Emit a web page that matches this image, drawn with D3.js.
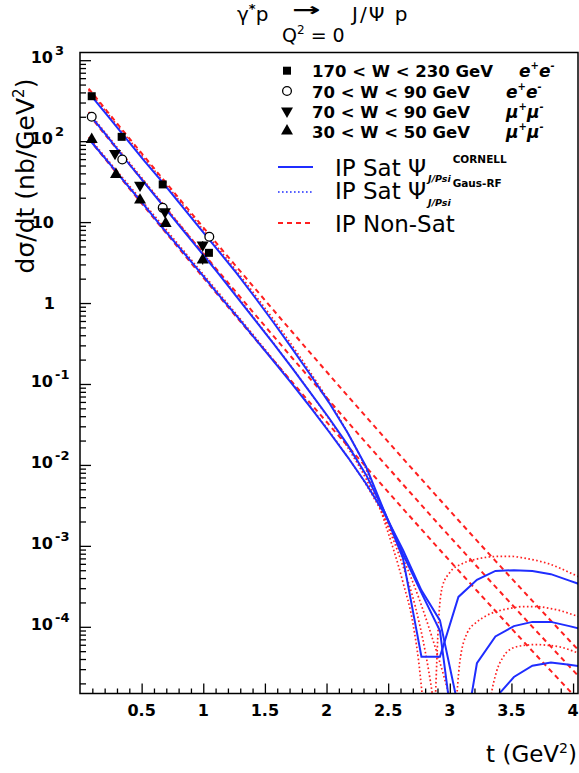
<!DOCTYPE html>
<html>
<head>
<meta charset="utf-8">
<script src="https://cdn.jsdelivr.net/npm/d3@7/dist/d3.min.js"></script>
<style>
  body { margin: 0; background: #fff; }
  svg text { font-family: "DejaVu Sans", sans-serif; fill: #000; }
  .b { font-weight: bold; }
</style>
</head>
<body>
<svg id="chart" width="579" height="773"></svg>
<script>
// ---------------- model predictions, dsigma/dt in nb/GeV^2 ----------------
// t grid of the IP-Sat (CORNELL) and IP Non-Sat calculations
const tGrid = [0.07,0.22,0.37,0.52,0.67,0.82,0.97,1.12,1.27,1.42,1.57,1.72,1.87,2.02,
               2.17,2.32,2.47,2.62,2.77,2.92,3.07,3.22,3.37,3.52,3.67,3.82,3.97,4.12];

const satCornellW200 = [398,209,110,57.5,30.9,16.2,8.51,4.47,2.34,1.17,0.575,0.275,0.129,0.0589,
                        0.0251,0.00955,0.00263,7.08e-4,4.27e-5,4.27e-5,2.34e-4,3.80e-4,4.90e-4,5.01e-4,
                        4.90e-4,4.47e-4,3.72e-4,3.09e-4];
const satCornellW80  = [219,115,58.9,30.9,16.2,8.51,4.47,2.34,1.20,0.617,0.316,0.158,0.0776,0.0380,
                        0.0178,0.00759,0.00263,7.94e-4,2.63e-4,8.91e-5,1.58e-6,3.55e-5,7.59e-5,1.02e-4,
                        1.15e-4,1.15e-4,1.02e-4,8.91e-5];
const satCornellW40  = [107,57.5,30.2,16.2,8.51,4.57,2.45,1.29,0.692,0.363,0.191,0.100,0.0513,0.0257,
                        0.0126,0.00589,0.00251,8.91e-4,2.82e-4,1.20e-4,1.0e-5,1.0e-6,1.32e-5,2.40e-5,
                        3.31e-5,3.63e-5,3.39e-5,3.16e-5];

const nonSatW200 = [447,234,123,65.0,34.4,18.3,9.75,5.21,2.80,1.51,0.815,0.442,0.240,0.131,
                    0.0716,0.0394,0.0217,0.0120,0.00667,0.00371,0.00207,0.00116,6.53e-4,3.69e-4,
                    2.09e-4,1.19e-4,6.78e-5,3.87e-5];
const nonSatW80  = [214,112,59.0,31.1,16.5,8.75,4.67,2.49,1.34,0.721,0.390,0.211,0.115,0.0627,
                    0.0343,0.0188,0.0104,0.00574,0.00319,0.00177,9.93e-4,5.56e-4,3.13e-4,1.77e-4,
                    1.00e-4,5.69e-5,3.24e-5,1.85e-5];
const nonSatW40  = [107,56.2,29.6,15.6,8.26,4.39,2.34,1.25,0.671,0.361,0.195,0.106,0.0575,0.0314,
                    0.0172,0.00944,0.00521,0.00288,0.00160,8.89e-4,4.98e-4,2.79e-4,1.57e-4,8.85e-5,
                    5.01e-5,2.85e-5,1.63e-5,9.29e-6];

// IP-Sat with the Gaus-RF wave function (finer t grid around the diffractive dip)
const tGausW200 = [0.07,0.52,0.97,1.42,1.87,2.17,2.32,2.47,2.62,2.70,2.76,2.80,2.84,2.88,2.91,2.94,
                   3.0,3.1,3.2,3.3,3.4,3.5,3.6,3.7,3.8,3.9,4.0,4.1];
const satGausW200 = [427,61.7,9.12,1.26,0.138,0.0251,0.00891,0.00200,3.55e-4,1.12e-4,2.51e-5,5.0e-6,
                     3.2e-7,1.0e-5,1.26e-4,3.16e-4,4.68e-4,6.03e-4,6.76e-4,7.24e-4,7.41e-4,7.41e-4,
                     7.08e-4,6.61e-4,6.03e-4,5.25e-4,4.47e-4,3.80e-4];
const tGausW80 = [0.07,0.52,0.97,1.42,1.87,2.17,2.32,2.47,2.62,2.72,2.80,2.86,2.92,2.97,3.01,3.05,
                  3.08,3.14,3.22,3.3,3.4,3.5,3.6,3.7,3.8,3.9,4.0,4.1];
const satGausW80 = [229,32.4,4.68,0.631,0.0776,0.0166,0.00676,0.00219,5.62e-4,1.78e-4,5.01e-5,1.41e-5,
                    2.51e-6,3.2e-7,1.0e-6,1.0e-5,3.55e-5,8.32e-5,1.15e-4,1.38e-4,1.58e-4,1.70e-4,
                    1.78e-4,1.78e-4,1.70e-4,1.58e-4,1.41e-4,1.26e-4];
const tGausW40 = [0.07,0.52,0.97,1.42,1.87,2.17,2.32,2.47,2.62,2.75,2.85,2.95,3.05,3.15,3.22,3.28,
                  3.33,3.38,3.43,3.5,3.6,3.7,3.8,3.9,4.0,4.1];
const satGausW40 = [112,17.0,2.57,0.380,0.0525,0.0126,0.00575,0.00224,7.08e-4,2.24e-4,7.94e-5,2.51e-5,
                    6.31e-6,1.0e-6,3.2e-7,2.51e-6,1.26e-5,2.82e-5,4.17e-5,5.37e-5,5.89e-5,6.03e-5,
                    5.89e-5,5.62e-5,5.01e-5,4.37e-5];

// ---------------- measurements ----------------
const tW200ee  = [0.095,0.338,0.671,1.046];
const dsW200ee = [359,113,29.2,4.17];
const erW200ee = [14,4.5,1.3,0.35];

const tW80ee  = [0.095,0.343,0.671,1.049];
const dsW80ee = [200,59.4,15.0,6.6];
const erW80ee = [8,2.5,0.9,0.5];

const tW80mm  = [0.284,0.487,0.689,0.995];
const dsW80mm = [70.5,28.6,13.4,5.2];
const erW80mm = [3,1.5,1.0,0.6];

const tW40mm  = [0.095,0.292,0.487,0.695,0.995];
const dsW40mm = [105,38.8,18.7,9.6,3.4];
const erW40mm = [4,1.8,1.0,0.8,0.4];

// axis tick labels
const xTickLabels = ["0.5","1","1.5","2","2.5","3","3.5","4"];
const yDecades = [-4,-3,-2,-1,0,1,2,3];

// legend entries
const dataLegend = [
  {label:"170 < W < 230 GeV", chan:["e","+","e","-"], sym:"square"},
  {label:"70 < W < 90 GeV",   chan:["e","+","e","-"], sym:"circle"},
  {label:"70 < W < 90 GeV",   chan:["\u03bc","+","\u03bc","-"], sym:"down"},
  {label:"30 < W < 50 GeV",   chan:["\u03bc","+","\u03bc","-"], sym:"up"}
];

// ---------------- drawing ----------------
const BLUE = "#1f2dff", RED = "#ff1f1f";
const F = {l:80, r:578, t:52.5, b:693.5};
const x = d3.scaleLinear().domain([0, 4.04]).range([F.l, F.r]);
const y = d3.scaleLog().domain([1.5e-5, 1245]).range([F.b, F.t]);

const svg = d3.select("#chart");
svg.append("rect").attr("width",579).attr("height",773).attr("fill","#fff");
svg.append("defs").append("clipPath").attr("id","frameClip")
   .append("rect").attr("x",F.l).attr("y",F.t).attr("width",F.r-F.l).attr("height",F.b-F.t);

const pair = (ts, vs) => ts.map((t,i) => [t, vs[i]]);
const straight = d3.line().x(d => x(d[0])).y(d => y(d[1]));
const smooth = d3.line().curve(d3.curveMonotoneX).x(d => x(d[0])).y(d => y(d[1]));

const curves = svg.append("g").attr("clip-path","url(#frameClip)").attr("fill","none");

[nonSatW200, nonSatW80, nonSatW40].forEach(v =>
  curves.append("path").attr("d", straight(pair(tGrid, v)))
    .attr("stroke", RED).attr("stroke-width", 2).attr("stroke-dasharray","5,4"));

[[tGausW200,satGausW200],[tGausW80,satGausW80],[tGausW40,satGausW40]].forEach(([ts,v]) =>
  curves.append("path").attr("d", smooth(pair(ts, v)))
    .attr("stroke", RED).attr("stroke-width", 1.7).attr("stroke-dasharray","1.6,2.4"));

[satCornellW200, satCornellW80, satCornellW40].forEach(v =>
  curves.append("path").attr("d", straight(pair(tGrid, v)))
    .attr("stroke", BLUE).attr("stroke-width", 2));

// frame
svg.append("rect").attr("x",F.l).attr("y",F.t).attr("width",F.r-F.l).attr("height",F.b-F.t)
   .attr("fill","none").attr("stroke","#000").attr("stroke-width",1.5);

// axes (ticks pointing into the frame)
const yMinor = [];
for (let e = -5; e <= 3; e++) for (let m = 2; m <= 9; m++) {
  const v = m * Math.pow(10, e);
  if (v > 1.5e-5 && v < 1245) yMinor.push(v);
}
const yMajor = yDecades.map(e => Math.pow(10, e));
const gy1 = svg.append("g").attr("transform",`translate(${F.l},0)`)
  .call(d3.axisRight(y).tickValues(yMajor).tickSize(11).tickFormat(""));
const gy2 = svg.append("g").attr("transform",`translate(${F.l},0)`)
  .call(d3.axisRight(y).tickValues(yMinor).tickSize(6).tickFormat(""));

const xMajor = d3.range(1, 9).map(i => i * 0.5);
const xMinor = d3.range(1, 41).map(i => i / 10).filter(v => Math.abs(v*2 - Math.round(v*2)) > 1e-6);
const gx1 = svg.append("g").attr("transform",`translate(0,${F.b})`)
  .call(d3.axisTop(x).tickValues(xMajor).tickSize(10).tickFormat(""));
const gx2 = svg.append("g").attr("transform",`translate(0,${F.b})`)
  .call(d3.axisTop(x).tickValues(xMinor).tickSize(5).tickFormat(""));
[gy1,gy2,gx1,gx2].forEach(g => {
  g.select(".domain").remove();
  g.selectAll(".tick line").attr("stroke","#000").attr("stroke-width",1.3);
});

// x tick labels
svg.append("g").selectAll("text").data(xMajor).join("text").attr("class","b")
  .attr("x", d => x(d)).attr("y", 716).attr("text-anchor","middle")
  .attr("font-size", 16).text((d,i) => xTickLabels[i]);

// y tick labels: 10^n
const yl = svg.append("g").attr("class","b");
yDecades.forEach(e => {
  const yy = y(Math.pow(10, e));
  if (e === 0) {
    yl.append("text").attr("x", 55).attr("y", yy + 6).attr("text-anchor","end")
      .attr("font-size", 16).text("1");
  } else if (e === 1) {
    yl.append("text").attr("x", 54).attr("y", yy + 6).attr("text-anchor","end")
      .attr("font-size", 16).text("10");
  } else {
    yl.append("text").attr("x", 53).attr("y", yy + 3).attr("text-anchor","end")
      .attr("font-size", 16).text("10");
    yl.append("text").attr("x", 55).attr("y", yy - 5).attr("text-anchor","start")
      .attr("font-size", 13).text(e < 0 ? "-" + (-e) : String(e));
  }
});

// data points with error bars
const markerPath = {
  square: d3.symbol(d3.symbolSquare, 64)(),
  circle: d3.symbol(d3.symbolCircle, 60)(),
  up: d3.symbol(d3.symbolTriangle, 62)(),
  down: d3.symbol(d3.symbolTriangle, 62)()
};
function drawPoints(ts, vs, es, sym) {
  const g = svg.append("g");
  ts.forEach((t, i) => {
    g.append("line").attr("x1", x(t)).attr("x2", x(t))
      .attr("y1", y(vs[i] - es[i])).attr("y2", y(vs[i] + es[i]))
      .attr("stroke","#000").attr("stroke-width",1.2);
    const m = g.append("path").attr("d", markerPath[sym])
      .attr("transform", `translate(${x(t)},${y(vs[i])})${sym === "down" ? " rotate(180)" : ""}`);
    if (sym === "circle") m.attr("fill","#fff").attr("stroke","#000").attr("stroke-width",1.3);
    else m.attr("fill","#000");
  });
}
drawPoints(tW200ee, dsW200ee, erW200ee, "square");
drawPoints(tW80ee, dsW80ee, erW80ee, "circle");
drawPoints(tW80mm, dsW80mm, erW80mm, "down");
drawPoints(tW40mm, dsW40mm, erW40mm, "up");

// title
const title = svg.append("g");
title.append("text").attr("x", 237).attr("y", 21).attr("font-size", 20)
  .html('\u03b3<tspan dy="-8" font-size="13" font-weight="bold">*</tspan><tspan dy="8">p</tspan>');
title.append("text").attr("class","b").attr("transform","translate(292,16) scale(1.9,1)")
  .attr("font-size", 18).text("\u2192");
title.append("text").attr("x", 352).attr("y", 21).attr("font-size", 20).attr("letter-spacing", 2)
  .text("J/\u03a8 p");
title.append("text").attr("x", 282).attr("y", 42).attr("font-size", 19)
  .html('Q<tspan dy="-8" font-size="12">2</tspan><tspan dy="8"> = 0</tspan>');

// axis titles
svg.append("text").attr("transform","translate(34,176) rotate(-90)").attr("text-anchor","middle")
  .attr("font-size", 25)
  .html('d\u03c3/dt  (nb/GeV<tspan dy="-10" font-size="15">2</tspan><tspan dy="10">)</tspan>');
svg.append("text").attr("x", 577).attr("y", 762).attr("text-anchor","end").attr("font-size", 23)
  .html('t  (GeV<tspan dy="-9" font-size="14">2</tspan><tspan dy="9">)</tspan>');

// legend: measurements
const rowY = [70.7, 91, 111, 131];
const lg = svg.append("g");
dataLegend.forEach((d, i) => {
  const cy = rowY[i];
  const m = lg.append("path").attr("d", markerPath[d.sym])
    .attr("transform", `translate(287,${cy})${d.sym === "down" ? " rotate(180)" : ""}`);
  if (d.sym === "circle") m.attr("fill","#fff").attr("stroke","#000").attr("stroke-width",1.3);
  else m.attr("fill","#000");
  lg.append("text").attr("class","b").attr("x", 312).attr("y", cy + 6.5).attr("font-size", 16.5).text(d.label);
  const cx = i === 0 ? 519 : 506;
  lg.append("text").attr("class","b").attr("x", cx).attr("y", cy + 6.5).attr("font-size", 17)
    .attr("font-style","italic")
    .html(`${d.chan[0]}<tspan dy="-8" font-size="10">${d.chan[1]}</tspan>` +
          `<tspan dy="8">${d.chan[2]}</tspan><tspan dy="-8" font-size="10">${d.chan[3]}</tspan>`);
});

// legend: models
lg.append("line").attr("x1",278).attr("x2",313).attr("y1",167).attr("y2",167)
  .attr("stroke",BLUE).attr("stroke-width",2);
lg.append("line").attr("x1",278).attr("x2",313).attr("y1",192).attr("y2",192)
  .attr("stroke",BLUE).attr("stroke-width",1.7).attr("stroke-dasharray","1.6,2.4");
lg.append("line").attr("x1",278).attr("x2",313).attr("y1",223).attr("y2",223)
  .attr("stroke",RED).attr("stroke-width",2).attr("stroke-dasharray","5,4");

function satLabel(baseY, supY, subY, wf) {
  const main = lg.append("text").attr("x", 335).attr("y", baseY).attr("font-size", 23).text("IP Sat \u03a8");
  const xEnd = 335 + main.node().getComputedTextLength();
  const sub = lg.append("text").attr("class","b").attr("x", xEnd + 2).attr("y", subY).attr("font-size", 9.5)
    .attr("font-style","italic").text("J/Psi");
  const xSup = xEnd + 4 + sub.node().getComputedTextLength();
  lg.append("text").attr("class","b").attr("x", xSup).attr("y", supY).attr("font-size", 10.5).text(wf);
}
satLabel(176, 163, 182, "CORNELL");
satLabel(199, 187, 206, "Gaus-RF");
lg.append("text").attr("x", 335).attr("y", 232).attr("font-size", 23).text("IP Non-Sat");
</script>
</body>
</html>
